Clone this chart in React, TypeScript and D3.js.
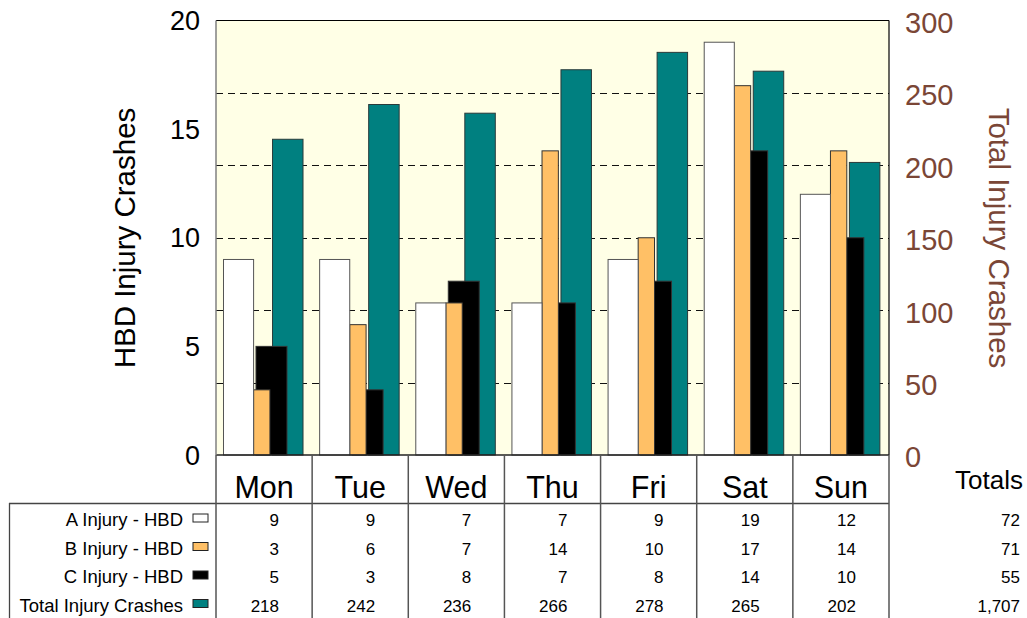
import React from "react";
import * as d3 from "d3";

const days = ["Mon", "Tue", "Wed", "Thu", "Fri", "Sat", "Sun"];
const aInjury = [9, 9, 7, 7, 9, 19, 12];
const bInjury = [3, 6, 7, 14, 10, 17, 14];
const cInjury = [5, 3, 8, 7, 8, 14, 10];
const totalCrashes = [218, 242, 236, 266, 278, 265, 202];
const rowTotals = ["72", "71", "55", "1,707"];
const leftTicks = [0, 5, 10, 15, 20];
const rightTicks = [0, 50, 100, 150, 200, 250, 300];
const rowLabels = ["A Injury - HBD", "B Injury - HBD", "C Injury - HBD", "Total Injury Crashes"];

const FONT = "'Liberation Sans', Arial, Helvetica, sans-serif";
const BROWN = "#7a4636";
const colors = { a: "#ffffff", b: "#ffc066", c: "#000000", t: "#008080" };

export default function App() {
  const left = 216, right = 889, top = 20.5, bottom = 455;
  const x = d3.scaleBand<string>().domain(days).range([left, right]).padding(0);
  const bw = x.bandwidth();
  const yL = d3.scaleLinear().domain([0, 20]).range([bottom, top]);
  const yR = d3.scaleLinear().domain([0, 300]).range([bottom, top]);

  const series = [
    { key: "t", vals: totalCrashes, scale: yR, f0: 0.588, f1: 0.905, color: colors.t, stroke: "#2a3a3a" },
    { key: "c", vals: cInjury, scale: yL, f0: 0.416, f1: 0.738, color: colors.c, stroke: "#333" },
    { key: "b", vals: bInjury, scale: yL, f0: 0.391, f1: 0.561, color: colors.b, stroke: "#333" },
    { key: "a", vals: aInjury, scale: yL, f0: 0.078, f1: 0.391, color: colors.a, stroke: "#555" },
  ];

  const tableVals = [aInjury, bInjury, cInjury, totalCrashes];
  const rowBase = [526, 554.5, 583, 611.5];
  const swatchColors = [colors.a, colors.b, colors.c, colors.t];

  return (
    <svg width={1027} height={618} style={{ position: "absolute", left: 0, top: 0 }} fontFamily={FONT}>
      <rect x={0} y={0} width={1027} height={618} fill="#ffffff" />
      <rect x={left} y={top} width={right - left} height={bottom - top} fill="#ffffe6" />
      {rightTicks.filter((t) => t > 0 && t < 300).map((t) => (
        <line key={t} x1={left} x2={right} y1={Math.round(yR(t)) + 0.5} y2={Math.round(yR(t)) + 0.5}
          stroke="#111" strokeWidth={1} strokeDasharray="7,5" />
      ))}
      {series.map((s) =>
        s.vals.map((v, i) => {
          const x0 = (x(days[i]) as number) + bw * s.f0;
          const x1 = (x(days[i]) as number) + bw * s.f1;
          return (
            <rect key={s.key + i} x={x0} y={s.scale(v)} width={x1 - x0} height={bottom - s.scale(v)}
              fill={s.color} stroke={s.stroke} strokeWidth={1} />
          );
        })
      )}
      {/* plot borders */}
      <line x1={left} x2={right} y1={top} y2={top} stroke="#000" strokeWidth={1.2} />
      <line x1={right} x2={right} y1={top} y2={bottom} stroke="#000" strokeWidth={1.2} />
      <line x1={left} x2={right} y1={bottom} y2={bottom} stroke="#222" strokeWidth={1.5} />
      <line x1={left} x2={left} y1={top} y2={bottom} stroke="#808080" strokeWidth={1.5} />

      {/* left axis labels */}
      {leftTicks.map((t) => (
        <text key={t} x={200} y={yL(t)} dy="0.36em" textAnchor="end" fontSize={27} fill="#000">{t}</text>
      ))}
      {/* right axis labels */}
      {rightTicks.map((t) => (
        <text key={t} x={905} y={yR(t) + 2} dy="0.36em" textAnchor="start" fontSize={29} fill={BROWN}>{t}</text>
      ))}
      <text transform="translate(135,238) rotate(-90)" textAnchor="middle" fontSize={29.5} fill="#000">HBD Injury Crashes</text>
      <text transform="translate(989,238) rotate(90)" textAnchor="middle" fontSize={29.5} fill={BROWN}>Total Injury Crashes</text>

      {/* table */}
      <line x1={9} x2={right} y1={503.5} y2={503.5} stroke="#444" strokeWidth={1.3} />
      <line x1={9.5} x2={9.5} y1={503} y2={618} stroke="#444" strokeWidth={1.3} />
      {[...days.map((d) => x(d) as number), right].map((xv, i) => (
        <line key={"v" + i} x1={xv} x2={xv} y1={bottom} y2={618} stroke="#555" strokeWidth={1.5} />
      ))}
      {days.map((d) => (
        <text key={d} x={(x(d) as number) + bw / 2} y={497.5} textAnchor="middle" fontSize={30.5} fill="#000">{d}</text>
      ))}
      <text x={1023} y={488.5} textAnchor="end" fontSize={26} fill="#000">Totals</text>
      {rowLabels.map((l, r) => (
        <g key={l}>
          <text x={183} y={rowBase[r]} textAnchor="end" fontSize={18.5} fill="#000">{l}</text>
          <rect x={193} y={rowBase[r] - 12} width={15} height={8} fill={swatchColors[r]} stroke="#222" strokeWidth={1} />
          {tableVals[r].map((v, i) => (
            <text key={i} x={(x(days[i]) as number) + 63} y={rowBase[r]} textAnchor="end" fontSize={17} fill="#000">{v}</text>
          ))}
          <text x={1020} y={rowBase[r]} textAnchor="end" fontSize={17} fill="#000">{rowTotals[r]}</text>
        </g>
      ))}
    </svg>
  );
}
